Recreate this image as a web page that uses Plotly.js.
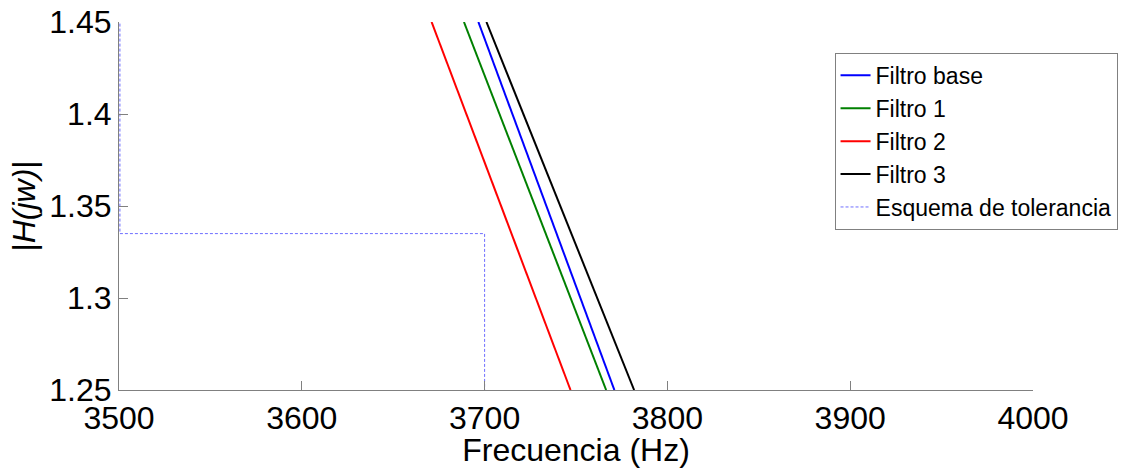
<!DOCTYPE html>
<html>
<head>
<meta charset="utf-8">
<script src="https://cdn.plot.ly/plotly-3.0.1.min.js"></script>
<style>html,body{margin:0;padding:0;background:#fff;}#chart{width:1122px;height:468px;}</style>
</head>
<body>
<div id="chart"></div>
<script>
// Frequency (Hz) and magnitude readings
const magnitude = [1.45, 1.25];
const freqBase = [3696.6, 3771.0];
const freq1 = [3688.7, 3766.5];
const freq2 = [3671.0, 3747.0];
const freq3 = [3701.0, 3781.8];
const tolFreq = [3500.5, 3500.5, 3700, 3700];
const tolMag = [1.46, 1.335, 1.335, 1.24];
const seriesNames = ["Filtro base", "Filtro 1", "Filtro 2", "Filtro 3", "Esquema de tolerancia"];
const xTicks = [3500, 3600, 3700, 3800, 3900, 4000];
const yTicks = [1.25, 1.3, 1.35, 1.4, 1.45];
const yTickText = ["1.25", "1.3", "1.35", "1.4", "1.45"];

const mk = (x, y, name, color, dash, width) => ({
  x: x, y: y, name: name, type: "scatter", mode: "lines",
  line: {color: color, width: width, dash: dash}
});

const traces = [
  mk(freqBase, magnitude, seriesNames[0], "#0000ff", "solid", 2),
  mk(freq1, magnitude, seriesNames[1], "#008000", "solid", 2),
  mk(freq2, magnitude, seriesNames[2], "#ff0000", "solid", 2),
  mk(freq3, magnitude, seriesNames[3], "#000000", "solid", 2),
  mk(tolFreq, tolMag, seriesNames[4], "#6f6fff", "3px,2px", 1)
];

const font = "Liberation Sans, Arial, sans-serif";
const layout = {
  width: 1122, height: 468,
  margin: {l: 119, r: 89, t: 22, b: 78, autoexpand: false},
  paper_bgcolor: "#fff", plot_bgcolor: "#fff",
  font: {family: font, color: "#000"},
  showlegend: true,
  legend: {
    x: 1.0925, y: 0.916, xanchor: "right", yanchor: "top",
    bordercolor: "#808080", borderwidth: 1, bgcolor: "#fff",
    font: {family: font, size: 23, color: "#000"},
    traceorder: "normal"
  },
  xaxis: {
    range: [3500, 4000], tickvals: xTicks, ticktext: xTicks.map(String),
    showline: true, linecolor: "#808080", linewidth: 1, mirror: false,
    ticks: "inside", ticklen: 9, tickcolor: "#808080", tickwidth: 1,
    showgrid: false, zeroline: false, automargin: false,
    tickfont: {family: font, size: 32, color: "#000"},
    title: {text: "Frecuencia (Hz)", font: {family: font, size: 32, color: "#000"}, standoff: 0}
  },
  yaxis: {
    range: [1.25, 1.45], tickvals: yTicks, ticktext: yTickText,
    showline: true, linecolor: "#808080", linewidth: 1, mirror: false,
    ticks: "inside", ticklen: 9, tickcolor: "#808080", tickwidth: 1,
    showgrid: false, zeroline: false, automargin: false,
    tickfont: {family: font, size: 32, color: "#000"},
    title: {text: "|<i>H(jw)</i>|", font: {family: font, size: 32, color: "#000"}, standoff: 4}
  }
};

Plotly.newPlot("chart", traces, layout, {displayModeBar: false, staticPlot: true});
</script>
</body>
</html>
